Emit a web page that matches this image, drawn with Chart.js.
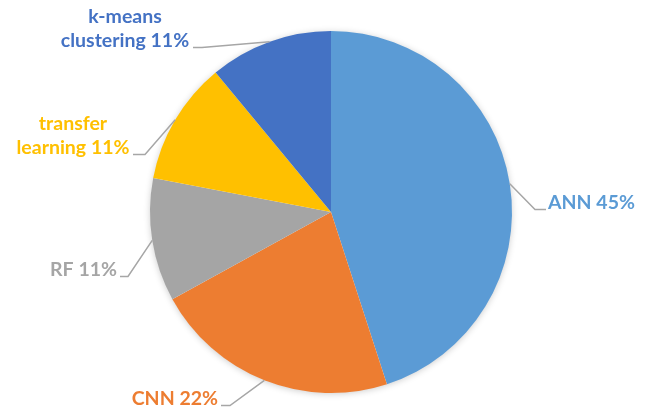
<!DOCTYPE html>
<html>
<head>
<meta charset="utf-8">
<script src="https://cdn.jsdelivr.net/npm/chart.js@4/dist/chart.umd.min.js"></script>
<style>
  html, body { margin: 0; padding: 0; background: #ffffff; }
  #wrap { width: 646px; height: 411px; }
</style>
</head>
<body>
<div id="wrap"><canvas id="pie" width="646" height="411"></canvas></div>
<script>
// Share of studies by method (percent)
const methods = ['ANN', 'CNN', 'RF', 'transfer learning', 'k-means clustering'];
const shares = [45, 22, 11, 11, 11];
const sliceColors = ['#5B9BD5', '#ED7D31', '#A5A5A5', '#FFC000', '#4472C4'];

// Data-label text lines per slice
const labelLines = [
  ['ANN 45%'],
  ['CNN 22%'],
  ['RF 11%'],
  ['transfer', 'learning 11%'],
  ['k-means', 'clustering 11%']
];

// Label placement, relative to the pie centre:
// tx = text anchor x, ty = baseline of last line, ex = elbow x, side = which way the text runs
const labelPlacement = [
  { tx: 217, ty: -3,  ex: 204, side: 'left' },
  { tx: -113, ty: 193, ex: -101, side: 'right' },
  { tx: -214, ty: 64,  ex: -203, side: 'right' },
  { tx: -258, ty: -58, ex: -186, side: 'center', lx: -198 },
  { tx: -206, ty: -165, ex: -129, side: 'center', lx: -138 }
];

const FONT = 'bold 19.5px Lato, "Open Sans", sans-serif';
const LINE_GAP = 24;

const pieShadow = {
  id: 'pieShadow',
  beforeDatasetsDraw(chart) {
    const arc = chart.getDatasetMeta(0).data[0];
    if (!arc) return;
    const { x, y, outerRadius } = arc.getProps(['x', 'y', 'outerRadius'], true);
    const ctx = chart.ctx;
    ctx.save();
    ctx.shadowColor = 'rgba(0,0,0,0.22)';
    ctx.shadowBlur = 7;
    ctx.shadowOffsetX = 0;
    ctx.shadowOffsetY = 1;
    ctx.fillStyle = '#ffffff';
    ctx.beginPath();
    ctx.arc(x, y, outerRadius - 0.5, 0, Math.PI * 2);
    ctx.fill();
    ctx.restore();
  }
};

const leaderLabels = {
  id: 'leaderLabels',
  afterDatasetsDraw(chart) {
    const ctx = chart.ctx;
    const meta = chart.getDatasetMeta(0);
    ctx.save();
    ctx.font = FONT;
    meta.data.forEach((arc, i) => {
      const p = arc.getProps(['x', 'y', 'startAngle', 'endAngle', 'outerRadius'], true);
      const mid = (p.startAngle + p.endAngle) / 2;
      const sx = p.x + Math.cos(mid) * p.outerRadius;
      const sy = p.y + Math.sin(mid) * p.outerRadius;
      const pl = labelPlacement[i];
      const lines = labelLines[i];
      const baseY = p.y + pl.ty;
      const lineY = baseY + 0.5;
      const elbowX = p.x + pl.ex;
      const endX = pl.side === 'left' ? p.x + pl.tx - 2
                 : pl.side === 'right' ? p.x + pl.tx + 3
                 : p.x + pl.lx;

      // leader line
      ctx.strokeStyle = '#A6A6A6';
      ctx.lineWidth = 1.5;
      ctx.beginPath();
      ctx.moveTo(sx, sy);
      ctx.lineTo(elbowX, lineY);
      ctx.lineTo(endX, lineY);
      ctx.stroke();

      // label text
      ctx.fillStyle = sliceColors[i];
      ctx.textBaseline = 'alphabetic';
      ctx.textAlign = pl.side;
      const n = lines.length;
      lines.forEach((t, k) => {
        ctx.fillText(t, p.x + pl.tx, baseY - (n - 1 - k) * LINE_GAP);
      });
    });
    ctx.restore();
  }
};

new Chart(document.getElementById('pie'), {
  type: 'pie',
  data: {
    labels: methods,
    datasets: [{
      data: shares,
      backgroundColor: sliceColors,
      borderWidth: 0
    }]
  },
  options: {
    responsive: false,
    animation: false,
    rotation: 0,
    layout: { padding: { top: 31, bottom: 18, left: 150, right: 134 } },
    plugins: {
      legend: { display: false },
      tooltip: { enabled: false },
      title: { display: false }
    }
  },
  plugins: [pieShadow, leaderLabels]
});
</script>
</body>
</html>
